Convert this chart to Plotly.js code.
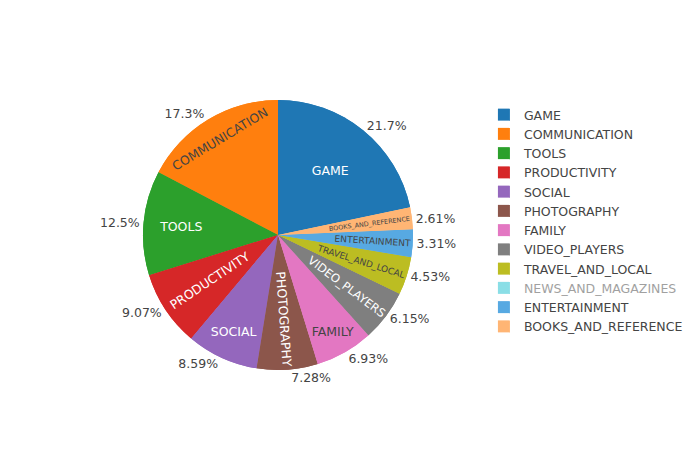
<!DOCTYPE html>
<html>
<head>
<meta charset="utf-8">
<script src="https://cdn.plot.ly/plotly-3.0.1.min.js"></script>
<style>html,body{margin:0;padding:0;}#chart{width:700px;height:450px;}</style>
</head>
<body>
<div id="chart"></div>
<script>
const categories = ["GAME","COMMUNICATION","TOOLS","PRODUCTIVITY","SOCIAL","PHOTOGRAPHY","FAMILY","VIDEO_PLAYERS","TRAVEL_AND_LOCAL","NEWS_AND_MAGAZINES","ENTERTAINMENT","BOOKS_AND_REFERENCE"];
const shares = [21.7,17.3,12.5,9.07,8.59,7.28,6.93,6.15,4.53,3.9,3.31,2.61];
const hiddenCategories = ["NEWS_AND_MAGAZINES"];

const outer = {
  type: 'pie', labels: categories, values: shares, sort: false,
  textinfo: 'percent', textposition: 'outside', hoverinfo: 'label+percent'
};
const inner = {
  type: 'pie', labels: categories, values: shares, sort: false,
  textinfo: 'label', textposition: 'inside', showlegend: false,
  hoverinfo: 'label+percent'
};
Plotly.newPlot('chart', [outer, inner], {
  width: 700, height: 450,
  font: {family: '"DejaVu Sans", Verdana, sans-serif', size: 12.5},
  hiddenlabels: hiddenCategories
}, {displayModeBar: false});
</script>
</body>
</html>
